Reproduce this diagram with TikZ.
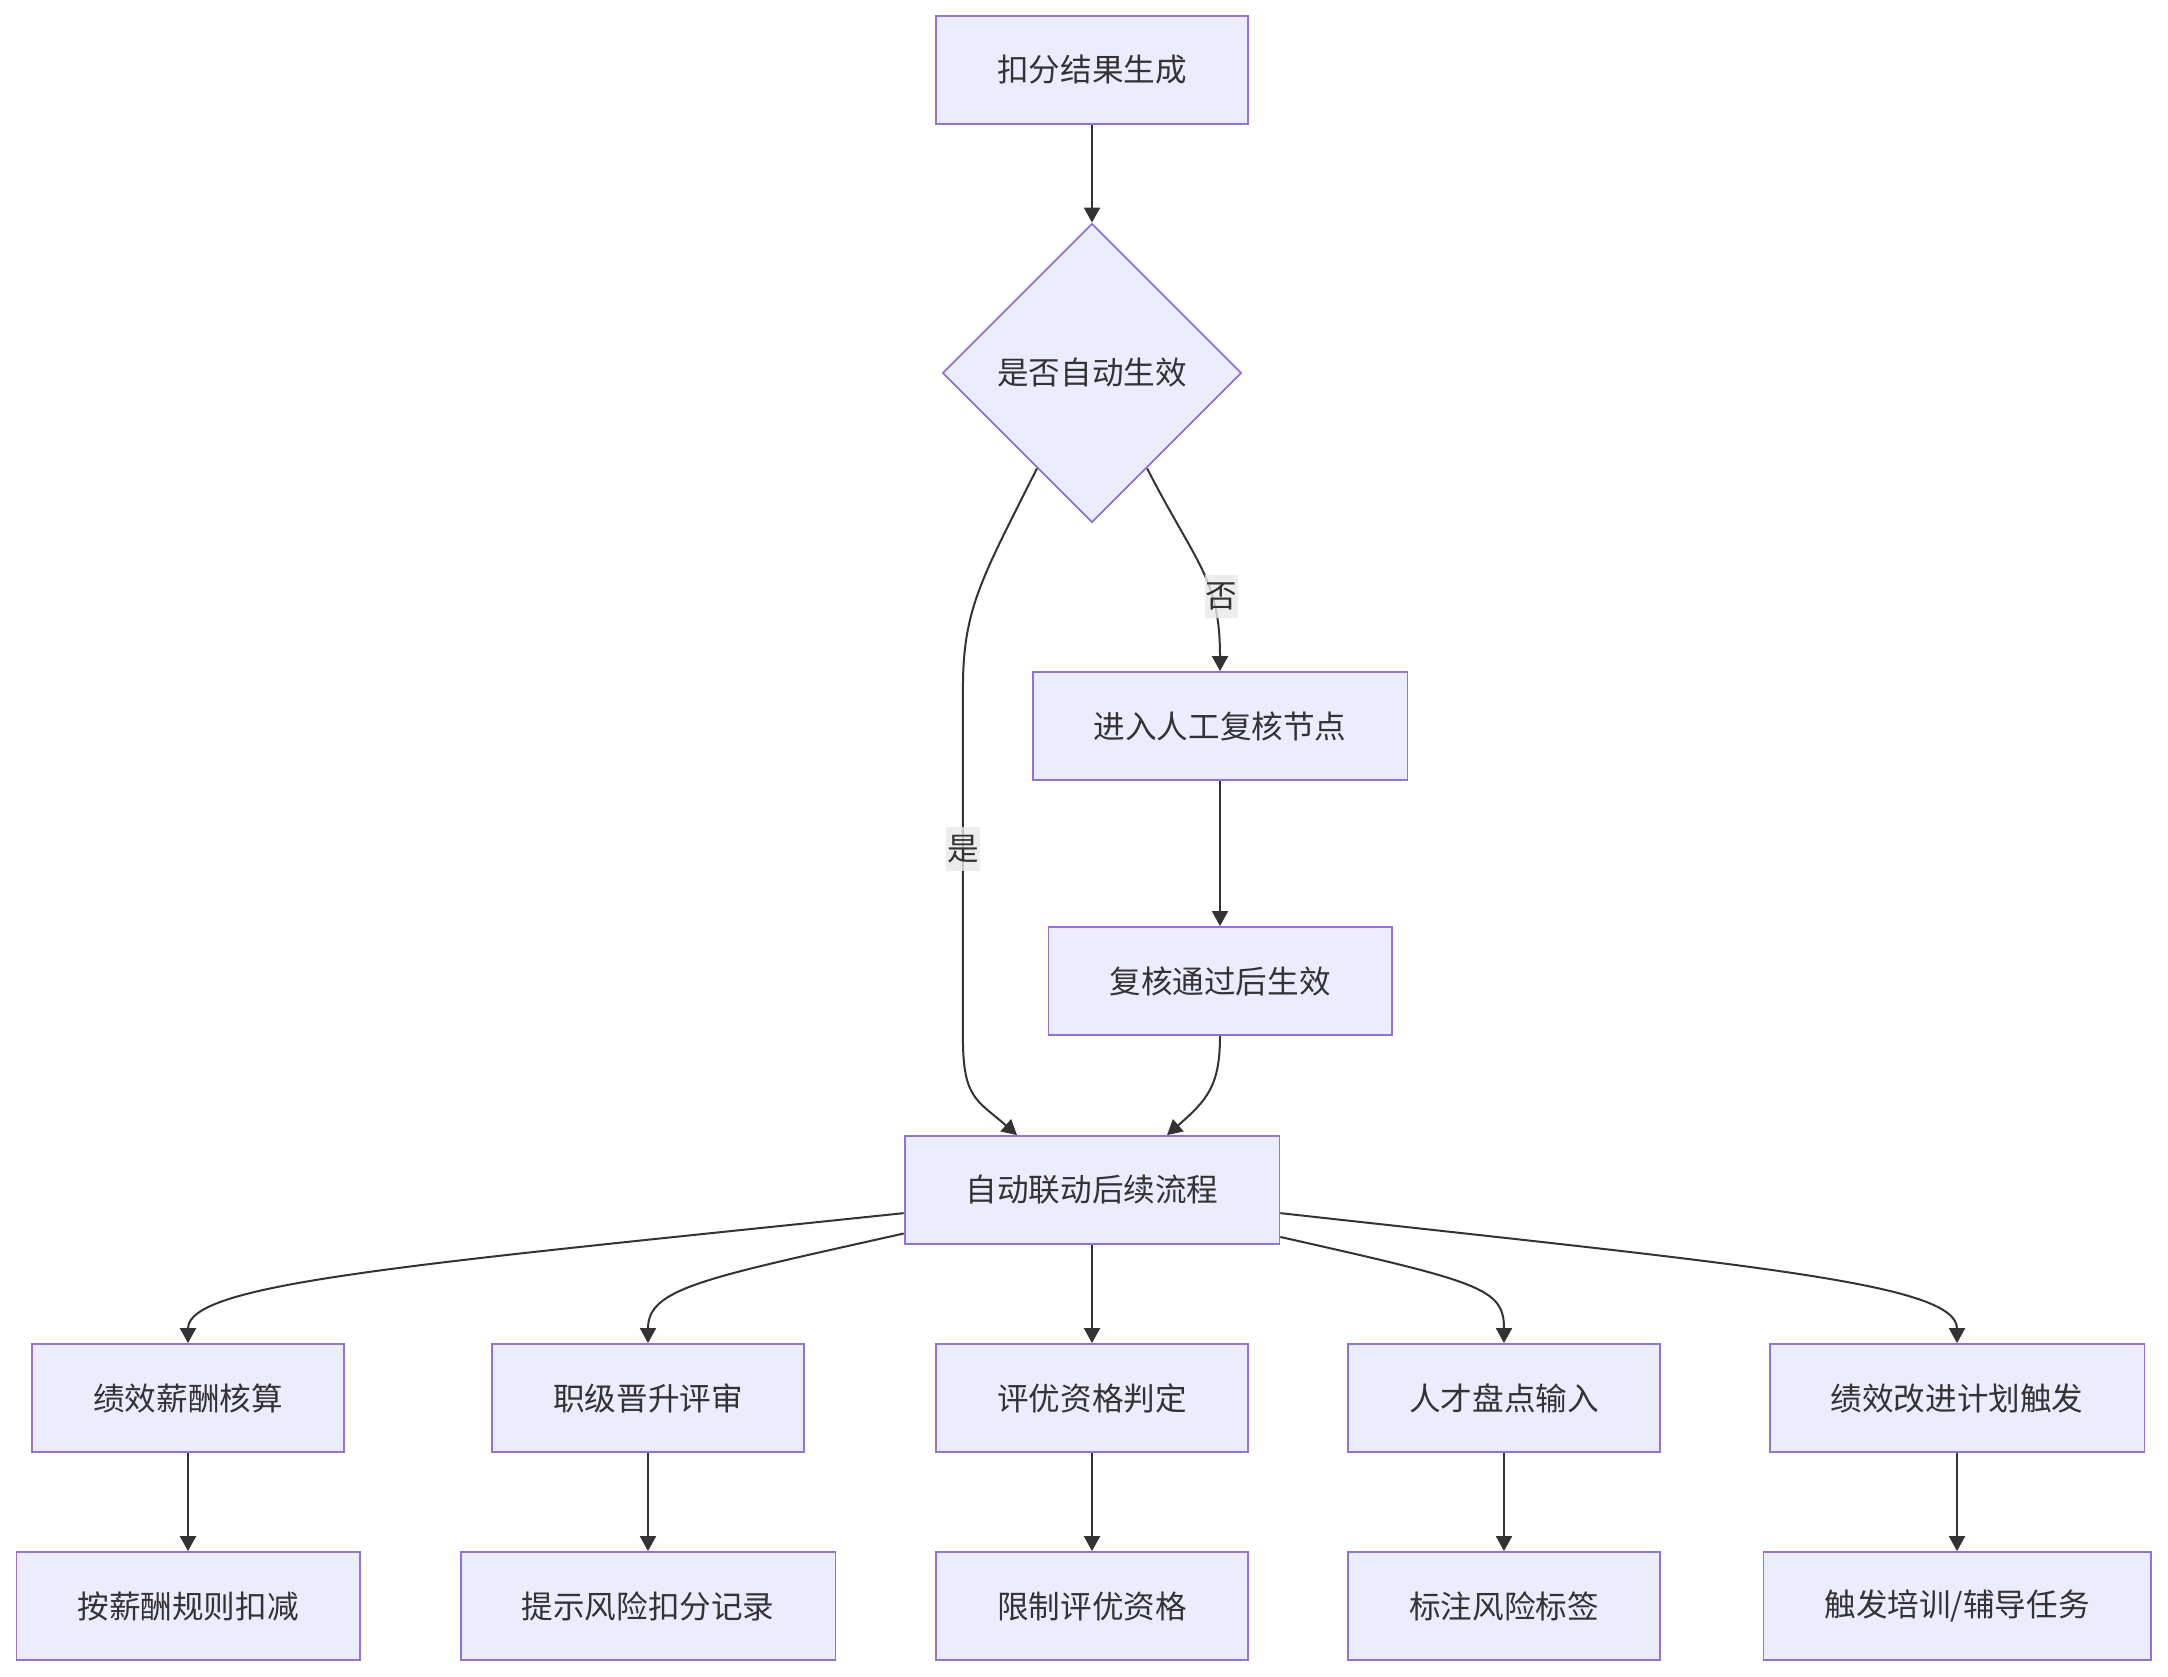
\documentclass[tikz,border=0pt]{standalone}
\usepackage{fontspec}
\setmainfont{Noto Sans CJK SC}
\usetikzlibrary{arrows.meta, positioning, shapes.geometric}
\definecolor{cfill}{HTML}{ECECFF}
\definecolor{cline}{HTML}{9370DB}
\definecolor{cink}{HTML}{333333}
\definecolor{ctag}{HTML}{E8E8E8}
\tikzset{
  every picture/.style={font=\fontsize{15.8pt}{19pt}\selectfont, line width=1pt},
  box/.style={draw=cline, fill=cfill, text=cink, inner xsep=30.5pt, minimum height=54pt, line width=0.9pt},
  decision/.style={diamond, draw=cline, fill=cfill, text=cink, minimum width=149.5pt, minimum height=149.5pt, inner sep=0pt, line width=0.9pt},
  arrow/.style={-{Triangle[length=7.5pt, width=8pt]}, draw=cink, line width=1pt},
  tag/.style={fill=ctag, fill opacity=0.8, text opacity=1, text=cink, inner xsep=0.5pt, inner ysep=4pt},
}

\begin{document}
\begin{tikzpicture}[x=0.5pt, y=-0.5pt]
  \useasboundingbox (0,0) rectangle (2168,1676);

  \node[box] (gen) at (1092,70) {扣分结果生成};
  \node[decision] (auto) at (1092,373) {是否自动生效};
  \node[box] (review) at (1220,726) {进入人工复核节点};
  \node[box] (pass) at (1220,981) {复核通过后生效};
  \node[box] (hub) at (1092,1190) {自动联动后续流程};

  \draw[arrow] (gen) -- (auto);
  \draw[arrow] (auto.240) .. controls +(-55,110) and +(0,-80) .. ++(-74,220)
    -- node[tag, pos=0.46] {是} ++(0,350)
    .. controls +(0,60) and +(-40,-35) .. ([xshift=-37.5pt]hub.north);
  \draw[arrow] (auto.300) .. controls +(50,97) and +(0,-92) .. node[tag, pos=0.65, xshift=5pt] {否} (review.north);
  \draw[arrow] (review) -- (pass);
  \draw[arrow] (pass.south) .. controls +(0,50) and +(40,-35) .. ([xshift=37.5pt]hub.north);

  % downstream processes
  \foreach \n/\x/\top/\bot in {pay/188/绩效薪酬核算/按薪酬规则扣减, promo/648/职级晋升评审/提示风险扣分记录,
                               award/1092/评优资格判定/限制评优资格, talent/1504/人才盘点输入/标注风险标签,
                               improve/1957/绩效改进计划触发/{触发培训/辅导任务}} {
    \node[box] (\n) at (\x,1398) {\top};
    \node[box] (\n-act) at (\x,1606) {\bot};
    \draw[arrow] (\n) -- (\n-act);
  }

  \draw[arrow] (hub.187) .. controls +(-497,52) and +(0,-60) .. (pay.north);
  \draw[arrow] (hub.193) .. controls +(-200,45) and +(0,-55) .. (promo.north);
  \draw[arrow] (hub) -- (award);
  \draw[arrow] (hub.-14) .. controls +(200,45) and +(0,-55) .. (talent.north);
  \draw[arrow] (hub.-7) .. controls +(469,52) and +(0,-60) .. (improve.north);
\end{tikzpicture}
\end{document}
